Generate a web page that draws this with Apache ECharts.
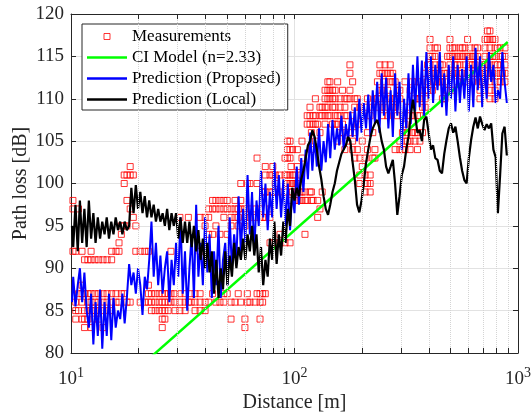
<!DOCTYPE html>
<html>
<head>
<meta charset="utf-8">
<script src="https://cdn.jsdelivr.net/npm/echarts@6/dist/echarts.min.js"></script>
<style>
  html, body { margin: 0; padding: 0; background: #fff; }
  #chart { width: 532px; height: 415px; }
</style>
</head>
<body>
<div id="chart"></div>
<script>
// measurement columns: distance [m] and the path loss values read at that distance
const measDist = [10.2, 10.5, 10.8, 11.2, 11.5, 11.9, 12.3, 12.8, 13.3, 13.9, 14.5, 15.2, 15.9, 16.4, 16.8, 17.3, 17.8, 18.4, 19.0, 19.5,
  20.4, 21.4, 22.2, 22.9, 23.8, 24.8, 25.6, 26.3, 27.2, 28.0, 29.2, 30.7, 32.4, 33.5, 34.5, 35.9, 37.8, 39.8, 41.3, 43.0,
  44.5, 46.4, 48.3, 50.0, 52.0, 54.2, 56.0, 57.5, 60.0, 61.5, 63.2, 66.6, 68.0, 70.1, 72.0, 74.0, 77.7, 80.0, 82.0, 86.1,
  90.7, 93.0, 95.5, 98.0, 100.5, 105.8, 111.4, 114, 117.3, 121, 127, 133, 137, 141, 144, 148, 152, 160, 168, 177,
  186, 196, 207, 218, 229, 241, 254, 268, 282, 296, 312, 329, 346, 364, 384, 404, 425, 448, 471, 496,
  522, 550, 580, 610, 642, 676, 712, 749, 789, 831, 875,
  96.5, 103, 108, 119, 124, 130, 156, 164, 172, 182, 191, 201, 212, 224, 235, 247, 261, 275, 289, 304,
  320, 337, 355, 374, 394, 414, 436, 459, 484, 509, 536, 565, 595, 626, 659, 694, 730, 768, 810, 852];
const measLoss = [
  [98, 92, 97], [92, 86, 85, 84], [97, 87, 85], [92, 88, 87, 86, 84], [91, 87, 85, 84, 83],
  [91, 87, 86, 85, 84], [91, 92, 87, 86, 85, 83], [91, 87, 86, 85, 84], [91, 87, 86, 85, 84], [91, 87, 86, 85, 83],
  [91, 87, 86, 85], [91, 92, 87, 86, 85], [92, 87, 86], [93, 92, 86], [95, 94, 87],
  [95, 101, 100, 87], [101, 98, 95, 86], [102, 101, 97, 86], [101, 96], [92, 95],
  [92, 86], [92, 86], [92, 88, 87, 86], [87, 86, 85], [87, 86, 85],
  [87, 86, 85], [87, 86, 85, 84, 83], [87, 86, 85, 84], [87, 86, 85], [92, 87, 86],
  [87, 86, 85], [96, 87, 86, 85], [87, 86, 85], [96, 86], [87, 86],
  [87, 86, 85], [92, 96, 87, 86, 85], [96, 95, 86, 85], [96, 97, 94, 86], [97, 98, 94, 87],
  [97, 98, 95, 86], [97, 98, 94, 86], [96, 97, 98, 86, 87], [97, 98, 94, 87], [96, 97, 95, 86, 84],
  [97, 98, 96, 86], [96, 97, 95, 87], [97, 98, 100, 86], [96, 97, 95, 84, 83], [100, 87, 86],
  [96, 100, 97, 86], [96, 97, 86], [103, 100, 87], [96, 97, 87, 86, 84], [99, 96, 87, 86],
  [101, 102, 99, 96, 87], [101, 99, 96, 97, 93], [102, 101, 99, 93], [101, 99, 100, 93], [101, 99, 94, 93],
  [103, 101, 99, 93], [104, 105, 103, 101, 100], [105, 104, 103, 101, 100, 93], [104, 101, 100, 99], [101, 100, 99, 98],
  [99, 98, 101], [98, 99, 94], [108, 107, 98], [108, 107, 109, 99], [108, 107, 98],
  [107, 98, 96], [109, 108, 99], [111, 110, 109, 108, 107], [111, 112, 110, 109, 108], [112, 111, 110, 108],
  [111, 110, 109, 107], [111, 110, 109, 108, 107], [110, 109, 108, 106], [110, 109, 108, 104], [114, 113, 111, 110, 106],
  [110, 109, 106, 103], [109, 103, 101, 100], [109, 103, 101, 100, 99], [108, 101, 100, 99], [110, 104, 103],
  [114, 113, 111, 110], [114, 113, 112, 110, 109], [114, 113, 112, 110], [112, 110, 109, 104], [111, 110, 105, 104],
  [112, 107, 105, 104], [111, 108, 105, 104], [112, 110, 106, 105], [112, 110, 108, 105], [113, 111, 110, 109],
  [117, 116, 115, 114, 113], [116, 115, 114, 113, 112], [114, 113, 112], [113, 112, 111, 110], [117, 116, 115, 114, 113],
  [116, 115, 114, 113], [116, 115, 114, 113, 112], [116, 115, 114, 112], [116, 115, 114, 113], [116, 115, 114, 113],
  [113, 112, 111, 110], [117, 116, 115, 114, 113, 112, 111], [118, 117, 116, 115, 114, 113, 112, 111, 110],
  [117, 116, 115, 114, 113, 112, 111, 110], [116, 115, 114, 113, 112], [116, 115, 114, 113, 112],
  [102, 100, 99, 98], [104, 102, 100, 99, 98], [105, 103, 99, 98], [106, 104, 99, 98], [110, 108, 107, 105],
  [109, 108, 106, 97], [112, 108, 107, 105], [111, 107, 106], [110, 108, 105], [112, 108, 105, 104],
  [110, 107, 104], [108, 105, 102], [110, 106, 104, 100], [109, 106, 103], [112, 110, 109],
  [113, 111, 109, 108], [113, 111, 108], [113, 112, 109], [111, 110, 108], [108, 106, 104],
  [109, 106, 105], [112, 108, 106], [110, 108, 106, 104], [111, 109, 106], [114, 112, 111],
  [115, 113, 112, 111], [116, 113, 112], [114, 112, 110], [115, 113, 111], [116, 115, 113, 111],
  [115, 114, 112], [116, 115, 113], [117, 115, 113], [115, 114, 112], [116, 115, 113],
  [114, 113, 112], [118, 117, 114, 113], [117, 115, 113], [116, 114, 112], [115, 113]
];

// CI model end points
const ciDist = [10, 900];
const ciLoss = [71.2, 116.7];

// prediction samples (shared distances)
const predDist = [10.1, 10.23, 10.47, 10.72, 10.96, 11.22, 11.48, 11.75, 12.02, 12.30,
  12.59, 12.88, 13.18, 13.49, 13.80, 14.13, 14.45, 14.79, 15.14, 15.49,
  15.85, 16.22, 16.60, 16.98, 17.38, 17.78, 18.20, 18.62, 19.05, 19.50,
  19.95, 20.42, 20.89, 21.38, 21.88, 22.39, 22.91, 23.44, 23.99, 24.55,
  25.12, 25.70, 26.30, 26.92, 27.54, 28.18, 28.84, 29.51, 30.20, 30.90,
  31.62, 32.36, 33.11, 33.88, 34.67, 35.48, 36.31, 37.15, 38.02, 38.90,
  39.81, 40.74, 41.69, 42.66, 43.65, 44.67, 45.71, 46.77, 47.86, 48.98,
  50.12, 51.29, 52.48, 53.70, 54.95, 56.23, 57.54, 58.88, 60.26, 61.66,
  63.10, 64.57, 66.07, 67.61, 69.18, 70.79, 72.44, 74.13, 75.86, 77.62,
  79.43, 81.28, 83.18, 85.11, 87.10, 89.13, 91.20, 93.33, 95.50, 97.72,
  100.0, 102.3, 104.7, 107.2, 109.6, 112.2, 114.8, 117.5, 120.2, 123.0,
  125.9, 128.8, 131.8, 134.9, 138.0, 141.3, 144.5, 147.9, 151.4, 154.9,
  158.5, 162.2, 166.0, 169.8, 173.8, 177.8, 182.0, 186.2, 190.5, 195.0,
  199.5, 204.2, 208.9, 213.8, 218.8, 223.9, 229.1, 234.4, 239.9, 245.5,
  251.2, 257.0, 263.0, 269.2, 275.4, 281.8, 288.4, 295.1, 302.0, 309.0,
  316.2, 323.6, 331.1, 338.8, 346.7, 354.8, 363.1, 371.5, 380.2, 389.0,
  398.1, 407.4, 416.9, 426.6, 436.5, 446.7, 457.1, 467.7, 478.6, 489.8,
  501.2, 512.9, 524.8, 537.0, 549.5, 562.3, 575.4, 588.8, 602.6, 616.6,
  631.0, 645.7, 660.7, 676.1, 691.8, 707.9, 724.4, 741.3, 758.6, 776.2,
  794.3, 812.8, 831.8, 851.1, 871.0, 891.3];

const proposed = [86, 89, 85.5, 88, 90, 86, 89.5, 85, 83, 87,
  81, 86, 82, 87.5, 80.5, 86, 82, 87, 81.5, 86.5,
  83, 85, 84, 87, 83.5, 86.5, 90.5, 88, 89.5, 87,
  90, 88, 84.5, 89, 87.5, 91, 95.5, 89, 93, 88,
  91.5, 87, 90, 92, 86, 91, 88, 93, 89, 96,
  87, 92, 85, 90, 94, 86.5, 97.5, 89, 93, 88,
  96, 89.5, 94, 86.5, 92, 88, 95, 86.5, 91, 93,
  88, 96, 90, 94, 91, 98.5, 92, 97, 93, 101,
  94, 99, 92, 98, 95, 101.5, 96, 100, 94.5, 99,
  96, 102.5, 97, 101, 96, 100.5, 95, 100, 94.5, 99,
  96.5, 102, 97.5, 103, 99, 104, 100.5, 106, 101.5, 105.5,
  102, 106.5, 101.5, 105, 102.5, 107, 103, 107.5, 104, 106.5,
  104.5, 108, 104, 107, 105, 108.5, 105.5, 109, 105, 110,
  106, 109.5, 106.5, 110.5, 105.5, 111, 107, 112, 106, 113,
  108, 112.5, 106.5, 111, 105.5, 113, 108, 112, 104, 110,
  106.5, 113, 107, 114, 108.5, 115, 109, 114.5, 108, 115.5,
  110, 115, 109.5, 114, 111, 115.5, 109, 113, 108, 114,
  110, 115, 108.5, 114, 109.5, 113.5, 110, 115, 108.5, 114,
  109, 116, 111, 115, 109, 114, 110, 115.5, 112, 114,
  109.5, 111, 110, 115.5, 112, 109.5];

const local = [95, 92.5, 97.5, 92, 98, 93, 97, 92.5, 98, 93.5,
  96.5, 93, 96, 93.5, 95.5, 94, 96, 93.5, 95.5, 94,
  96, 94.5, 95.5, 94, 95.5, 94.5, 95, 99.5, 96.5, 99.8,
  97, 99, 96.5, 98.5, 96, 98, 96, 97.5, 95.5, 97,
  95.5, 96.5, 95, 97, 94.5, 96.5, 95, 96.5, 93.5, 96,
  93, 95.5, 93, 95.5, 92.5, 95, 92, 94.5, 91, 93.5,
  90, 93, 89.5, 92, 87, 91, 86.5, 90, 87.5, 92,
  88, 91.5, 89, 93, 90, 92.5, 91, 93.5, 91, 94,
  92, 95, 91.5, 94, 89.5, 92.5, 88, 91, 89, 93.5,
  91, 95.5, 90.5, 94, 91.5, 95.5, 93, 97, 95, 99.5,
  98, 99.5, 98.5, 100.5, 101.5, 103, 104.5, 105, 106.3, 105.5,
  104, 102, 100.5, 98.5, 97, 96.3, 97.5, 99, 100, 101.5,
  102.5, 103.5, 104, 104.5, 105.5, 105, 102.5, 100.4, 97.5, 96.6,
  98, 100, 102.4, 104, 105.5, 106.5, 107.1, 107.5, 106.5, 105,
  104, 102, 101.2, 102, 102.8, 100, 96.3, 98.5, 101, 102,
  104, 105.5, 108, 109.9, 108, 106, 106.3, 105, 107.5, 107.9,
  106, 104, 104.5, 103, 102.8, 101.5, 101.2, 103.5, 105.1, 106.5,
  107.1, 106, 106.7, 105, 103.1, 101.5, 100.4, 100, 103, 105.1,
  106.7, 107.8, 106.5, 107.9, 107, 106.3, 107, 106.5, 107.1, 104,
  103.1, 96.5, 101, 105.9, 106.7, 103.3];

const minorX = [20, 30, 40, 50, 60, 70, 80, 90, 200, 300, 400, 500, 600, 700, 800, 900];
const yTicks = { min: 80, max: 120, interval: 5 };

const font = 'Liberation Serif';
const axisColor = '#262626';
const colors = { meas: '#ff0000', ci: '#00ff00', proposed: '#0000ff', local: '#000000' };

const measPoints = [];
measDist.forEach((d, i) => measLoss[i].forEach(v => measPoints.push([d, v])));

const zip = (xs, ys) => xs.map((x, i) => [x, ys[i]]);

// minor tick marks on bottom and top edges (about 5 px long)
const minorTickLines = [];
minorX.forEach(d => {
  minorTickLines.push([{ coord: [d, yTicks.min] }, { coord: [d, yTicks.min + 0.6] }]);
  minorTickLines.push([{ coord: [d, yTicks.max] }, { coord: [d, yTicks.max - 0.6] }]);
});

const lineIcon = 'path://M0,0H40V2.5H0Z';

const chart = echarts.init(document.getElementById('chart'), null, { renderer: 'canvas' });

chart.setOption({
  animation: false,
  backgroundColor: '#fff',
  textStyle: { fontFamily: font, color: axisColor },
  grid: { left: 71, right: 14, top: 14, bottom: 62, containLabel: false, outerBoundsMode: 'none' },
  legend: {
    orient: 'vertical',
    left: 82,
    top: 24,
    padding: [4, 7, 2, 5],
    itemGap: 4,
    itemWidth: 40,
    itemHeight: 6,
    backgroundColor: '#fff',
    borderColor: axisColor,
    borderWidth: 1,
    textStyle: { fontFamily: font, fontSize: 17, lineHeight: 17, color: '#000' },
    data: [
      { name: 'Measurements', icon: 'path://M0,0H10V10H0Z',
        itemStyle: { color: 'transparent', borderColor: colors.meas, borderWidth: 1 } },
      { name: 'CI Model (n=2.33)', icon: lineIcon, itemStyle: { color: colors.ci, borderWidth: 0 } },
      { name: 'Prediction (Proposed)', icon: lineIcon, itemStyle: { color: colors.proposed, borderWidth: 0 } },
      { name: 'Prediction (Local)', icon: lineIcon, itemStyle: { color: colors.local, borderWidth: 0 } }
    ]
  },
  xAxis: [
    {
      type: 'log',
      logBase: 10,
      min: 10,
      max: 1000,
      name: 'Distance [m]',
      nameLocation: 'middle',
      nameGap: 40,
      nameMoveOverlap: false,
      nameTextStyle: { fontFamily: font, fontSize: 20, color: axisColor },
      axisLine: { lineStyle: { color: axisColor } },
      axisTick: { inside: true, length: 5, lineStyle: { color: axisColor } },
      axisLabel: {
        margin: 13,
        formatter: v => '{b|10}{s|' + Math.round(Math.log10(v)) + '}',
        rich: {
          b: { fontFamily: font, fontSize: 19, color: axisColor, verticalAlign: 'bottom' },
          s: { fontFamily: font, fontSize: 14, color: axisColor, verticalAlign: 'bottom', padding: [0, 0, 9, 0] }
        }
      },
      splitLine: { show: true, lineStyle: { color: '#e2e2e2', width: 1 } }
    },
    {
      type: 'log',
      logBase: 10,
      min: 10,
      max: 1000,
      position: 'top',
      axisLine: { lineStyle: { color: axisColor } },
      axisTick: { inside: true, length: 5, lineStyle: { color: axisColor } },
      axisLabel: { show: false },
      splitLine: { show: false }
    }
  ],
  yAxis: [
    {
      type: 'value',
      min: yTicks.min,
      max: yTicks.max,
      interval: yTicks.interval,
      name: 'Path loss [dB]',
      nameLocation: 'middle',
      nameGap: 40,
      nameMoveOverlap: false,
      nameTextStyle: { fontFamily: font, fontSize: 20, color: axisColor },
      axisLine: { show: true, lineStyle: { color: axisColor } },
      axisTick: { show: true, inside: true, length: 5, lineStyle: { color: axisColor } },
      axisLabel: { margin: 7, fontFamily: font, fontSize: 19, color: axisColor },
      splitLine: { show: true, lineStyle: { color: '#e2e2e2', width: 1 } }
    },
    {
      type: 'value',
      min: yTicks.min,
      max: yTicks.max,
      interval: yTicks.interval,
      position: 'right',
      axisLine: { show: true, lineStyle: { color: axisColor } },
      axisTick: { show: true, inside: true, length: 5, lineStyle: { color: axisColor } },
      axisLabel: { show: false },
      splitLine: { show: false }
    }
  ],
  series: [
    {
      name: 'minor grid',
      type: 'scatter',
      data: [],
      z: 1,
      silent: true,
      markLine: {
        silent: true,
        symbol: ['none', 'none'],
        label: { show: false },
        lineStyle: { color: '#d4d4d4', type: 'dotted', width: 1 },
        data: minorX.map(d => ({ xAxis: d }))
      }
    },
    {
      name: 'minor ticks',
      type: 'scatter',
      data: [],
      z: 5,
      silent: true,
      markLine: {
        silent: true,
        symbol: ['none', 'none'],
        label: { show: false },
        lineStyle: { color: axisColor, type: 'solid', width: 1 },
        data: minorTickLines
      }
    },
    {
      name: 'Measurements',
      type: 'scatter',
      symbol: 'rect',
      symbolSize: 6,
      itemStyle: { color: 'transparent', borderColor: colors.meas, borderWidth: 1 },
      data: measPoints,
      z: 2
    },
    {
      name: 'CI Model (n=2.33)',
      type: 'line',
      showSymbol: false,
      symbol: 'none',
      lineStyle: { color: colors.ci, width: 2.5 },
      itemStyle: { color: colors.ci },
      data: zip(ciDist, ciLoss),
      z: 3
    },
    {
      name: 'Prediction (Proposed)',
      type: 'line',
      showSymbol: false,
      symbol: 'none',
      lineStyle: { color: colors.proposed, width: 2 },
      itemStyle: { color: colors.proposed },
      data: zip(predDist, proposed),
      z: 3
    },
    {
      name: 'Prediction (Local)',
      type: 'line',
      showSymbol: false,
      symbol: 'none',
      lineStyle: { color: colors.local, width: 2.2 },
      itemStyle: { color: colors.local },
      data: zip(predDist, local),
      z: 3
    }
  ]
});

window.addEventListener('resize', () => chart.resize());
</script>
</body>
</html>
